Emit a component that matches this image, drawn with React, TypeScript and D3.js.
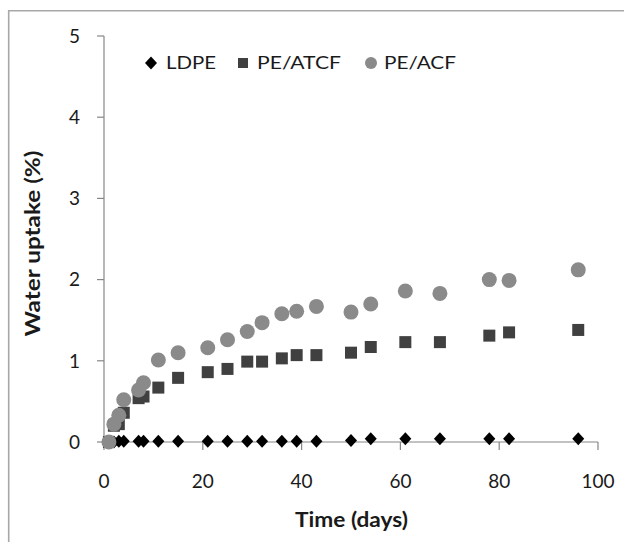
import React from 'react';
import * as d3 from 'd3';

// Water uptake vs time
const days = [1, 2, 3, 4, 7, 8, 11, 15, 21, 25, 29, 32, 36, 39, 43, 50, 54, 61, 68, 78, 82, 96];
const ldpe = [0, 0, 0.01, 0.01, 0.01, 0.01, 0.01, 0.01, 0.01, 0.01, 0.01, 0.01, 0.01, 0.01, 0.01, 0.02, 0.04, 0.04, 0.04, 0.04, 0.04, 0.04];
const peAtcf = [0, 0.2, 0.22, 0.36, 0.54, 0.56, 0.67, 0.79, 0.86, 0.9, 0.99, 0.99, 1.03, 1.07, 1.07, 1.1, 1.17, 1.23, 1.23, 1.31, 1.35, 1.38];
const peAcf = [0, 0.22, 0.33, 0.52, 0.64, 0.73, 1.01, 1.1, 1.16, 1.26, 1.36, 1.47, 1.58, 1.61, 1.67, 1.6, 1.7, 1.86, 1.83, 2.0, 1.99, 2.12];

const xTicks = [0, 20, 40, 60, 80, 100];
const yTicks = [0, 1, 2, 3, 4, 5];
const seriesNames = ['LDPE', 'PE/ATCF', 'PE/ACF'];

const W = 624;
const H = 542;
const axisColor = '#868686';
const textColor = '#1a1a1a';
const font = 'Lato, "Liberation Sans", sans-serif';

function diamond(cx: number, cy: number, w: number, h: number) {
  return `M${cx},${cy - h} L${cx + w},${cy} L${cx},${cy + h} L${cx - w},${cy} Z`;
}

export default function App() {
  const x = d3.scaleLinear().domain([0, 100]).range([104, 598]);
  const y = d3.scaleLinear().domain([0, 5]).range([442, 36]);

  return (
    <svg width={W} height={H} style={{ position: 'absolute', left: 0, top: 0, background: '#fff' }}>
      <rect x={0} y={0} width={W} height={H} fill="#fff" />
      {/* outer frame, only left and top show */}
      <path d={`M8.7,${H + 2} L8.7,10.7 L${W + 2},10.7`} fill="none" stroke="#a8a8a8" strokeWidth={1.6} />

      {/* axes */}
      <line x1={x(0)} x2={x(0)} y1={y(5)} y2={y(0)} stroke={axisColor} strokeWidth={1.2} />
      <line x1={x(0)} x2={x(100)} y1={y(0)} y2={y(0)} stroke={axisColor} strokeWidth={1.2} />
      {yTicks.map(t => (
        <g key={'y' + t}>
          <line x1={x(0) - 7} x2={x(0)} y1={y(t)} y2={y(t)} stroke={axisColor} strokeWidth={1.2} />
          <text x={80} y={y(t)} dy="0.36em" textAnchor="end" fontFamily={font} fontSize={19} fill={textColor}>{t}</text>
        </g>
      ))}
      {xTicks.map(t => (
        <g key={'x' + t}>
          <line x1={x(t)} x2={x(t)} y1={y(0)} y2={y(0) + 8} stroke={axisColor} strokeWidth={1.2} />
          <text x={x(t)} y={488} textAnchor="middle" fontFamily={font} fontSize={19} fill={textColor}>{t}</text>
        </g>
      ))}

      {/* axis titles */}
      <text x={351.5} y={527} textAnchor="middle" fontFamily={font} fontSize={20} fontWeight="bold" fill={textColor}
        textLength={113} lengthAdjust="spacingAndGlyphs">Time (days)</text>
      <text transform="translate(40,243.5) rotate(-90)" textAnchor="middle" fontFamily={font} fontSize={20} fontWeight="bold"
        fill={textColor} textLength={186} lengthAdjust="spacingAndGlyphs">Water uptake (%)</text>

      {/* data */}
      {days.map((d, i) => (
        <path key={'l' + i} d={diamond(x(d), y(ldpe[i]), 6, 6.5)} fill="#000" />
      ))}
      {days.map((d, i) => (
        <rect key={'s' + i} x={x(d) - 6} y={y(peAtcf[i]) - 6} width={12} height={12} fill="#404040" />
      ))}
      {days.map((d, i) => (
        <circle key={'c' + i} cx={x(d)} cy={y(peAcf[i])} r={7.5} fill="#8a8a8a" />
      ))}

      {/* legend */}
      <path d={diamond(151, 63, 6, 6.5)} fill="#000" />
      <text x={166} y={69} fontFamily={font} fontSize={18} fill={textColor} textLength={50} lengthAdjust="spacingAndGlyphs">{seriesNames[0]}</text>
      <rect x={238} y={58} width={10} height={10} fill="#404040" />
      <text x={257} y={69} fontFamily={font} fontSize={18} fill={textColor} textLength={84} lengthAdjust="spacingAndGlyphs">{seriesNames[1]}</text>
      <circle cx={371} cy={63} r={6} fill="#8a8a8a" />
      <text x={384} y={69} fontFamily={font} fontSize={18} fill={textColor} textLength={72} lengthAdjust="spacingAndGlyphs">{seriesNames[2]}</text>
    </svg>
  );
}
